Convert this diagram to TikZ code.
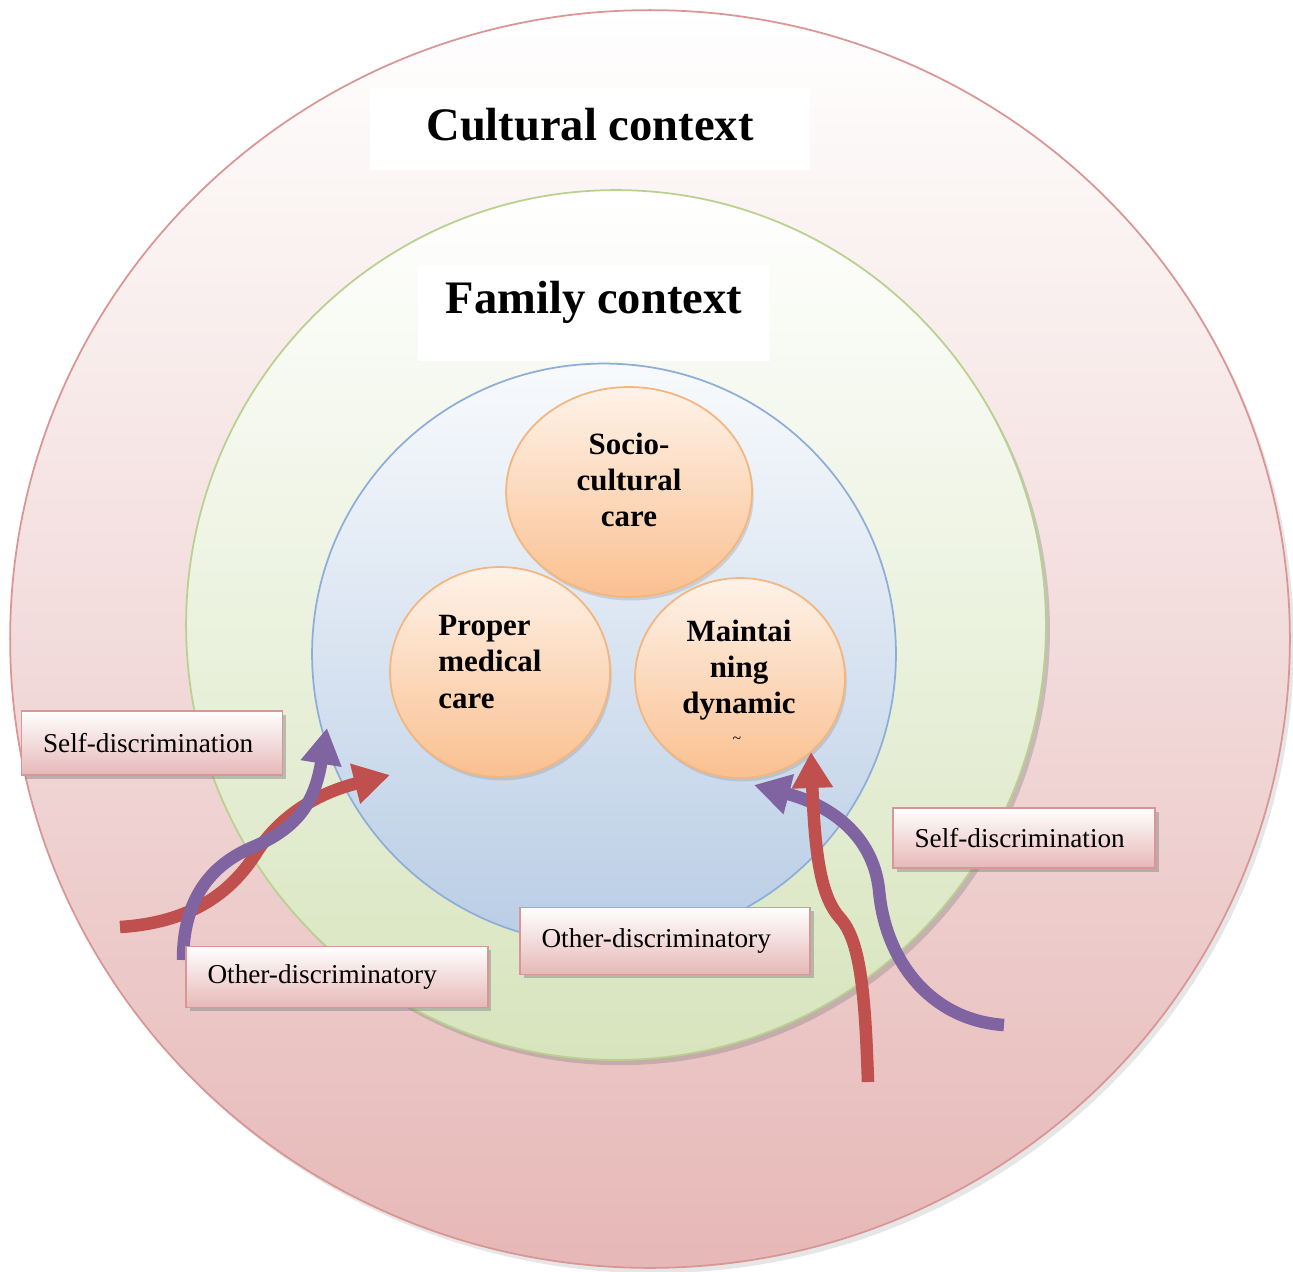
\documentclass[tikz,border=0pt]{standalone}
\usepackage{fontspec}
\setmainfont{Liberation Serif}
\usetikzlibrary{shapes.geometric,shadows,arrows.meta}

\definecolor{ringred}{HTML}{E6B8B7}
\definecolor{ringredline}{HTML}{D99694}
\definecolor{ringgreen}{HTML}{D7E4BD}
\definecolor{ringgreenline}{HTML}{B9D18E}
\definecolor{ringblue}{HTML}{B9CDE5}
\definecolor{ringblueline}{HTML}{8EAEDA}
\definecolor{peach}{HTML}{FAC090}
\definecolor{peachline}{HTML}{F4B57E}
\definecolor{arrowred}{HTML}{C0504D}
\definecolor{arrowpurple}{HTML}{8064A2}

\begin{document}
\begin{tikzpicture}[x=0.02cm,y=-0.02cm,
    ring/.style={ellipse,draw,line width=1pt,top color=white},
    care/.style={ellipse,draw=peachline,line width=1pt,top color=peach!20,bottom color=peach,
        drop shadow={shadow xshift=1pt,shadow yshift=-2pt,opacity=.25}},
    caretext/.style={font=\fontsize{17.6}{20.5}\selectfont\bfseries},
    heading/.style={fill=white,font=\fontsize{26.5}{30}\selectfont\bfseries},
    discbox/.style={draw=ringredline,line width=0.8pt,top color=white,bottom color=ringred,
        align=left,inner xsep=0.43cm,font=\fontsize{15.5}{18}\selectfont,
        drop shadow={shadow xshift=2pt,shadow yshift=-2pt,opacity=.45}},
    flow/.style={line width=0.25cm,-{Triangle[length=0.72cm,width=0.78cm]}}]
\useasboundingbox (0,0) rectangle (1293,1271);

% context rings
\node[ring,draw=ringredline,bottom color=ringred,minimum width=25.6cm,minimum height=25.16cm,
      drop shadow={shadow yshift=-3pt,opacity=.2}] (culture) at (650,639) {};
\node[ring,draw=ringgreenline,bottom color=ringgreen,minimum width=17.2cm,minimum height=17.4cm,
      drop shadow={shadow yshift=-3pt,opacity=.35}] (family) at (616,625) {};
\node[ring,draw=ringblueline,top color=ringblue!10,middle color=ringblue!75,bottom color=ringblue,
      minimum width=11.68cm,minimum height=11.62cm] (self) at (604,654) {};

\node[heading,minimum width=8.8cm,minimum height=1.64cm,text depth=0.2cm] (culturetitle) at (590,129) {Cultural context};
\node[heading,minimum width=7.04cm,minimum height=1.94cm,text depth=0.62cm] (familytitle) at (594,313) {Family context};

% care circles
\node[care,minimum width=4.92cm,minimum height=4.2cm] (socio) at (629,492) {};
\node[care,minimum width=4.4cm,minimum height=4.2cm] (medical) at (500,672) {};
\node[care,minimum width=4.2cm,minimum height=4.0cm] (dynamic) at (740,678) {};
\node[caretext,align=center] (sociotext) at (629,480) {Socio-\\cultural\\care};
\node[caretext,align=left] (medicaltext) at (490,662) {Proper\\medical\\care};
\node[caretext,align=center] (dynamictext) at (739,670) {Maintai\\ning\\dynamic};
\node[font=\fontsize{9}{10}\selectfont] (dynamicmark) at (737,740) {\textasciitilde};

% arrows
\coordinate (redin) at (120,927);
\coordinate (redtip) at (390,775);
\coordinate (purplein) at (183,960);
\coordinate (purpletip) at (327,728);
\draw[flow,arrowred] (redin) .. controls (200,922) and (235,885) .. (255,855)
    .. controls (275,822) and (310,795) .. (redtip);
\draw[flow,arrowpurple] (purplein) .. controls (183,900) and (210,865) .. (253,847)
    .. controls (300,827) and (315,800) .. (purpletip);

\coordinate (purplein2) at (1004,1025);
\coordinate (purpletip2) at (754,785);
\coordinate (redin2) at (868,1082);
\coordinate (redtip2) at (811,752);
\draw[flow,arrowpurple] (purplein2) .. controls (930,1020) and (885,960) .. (879,890)
    .. controls (873,835) and (830,805) .. (purpletip2);
\draw[flow,arrowred] (redin2) .. controls (865,990) and (860,940) .. (840,918)
    .. controls (822,898) and (815,860) .. (redtip2);

% labels
\node[discbox,text width=4.36cm,minimum height=1.28cm] (selfleft) at (152,743) {Self-discrimination};
\node[discbox,text width=4.38cm,minimum height=1.2cm] (selfright) at (1024,838) {Self-discrimination};
\node[discbox,text width=4.94cm,minimum height=1.34cm] (othermid) at (665,941) {Other-discriminatory};
\node[discbox,text width=5.18cm,minimum height=1.22cm] (otherleft) at (337,977) {Other-discriminatory};
\end{tikzpicture}
\end{document}
